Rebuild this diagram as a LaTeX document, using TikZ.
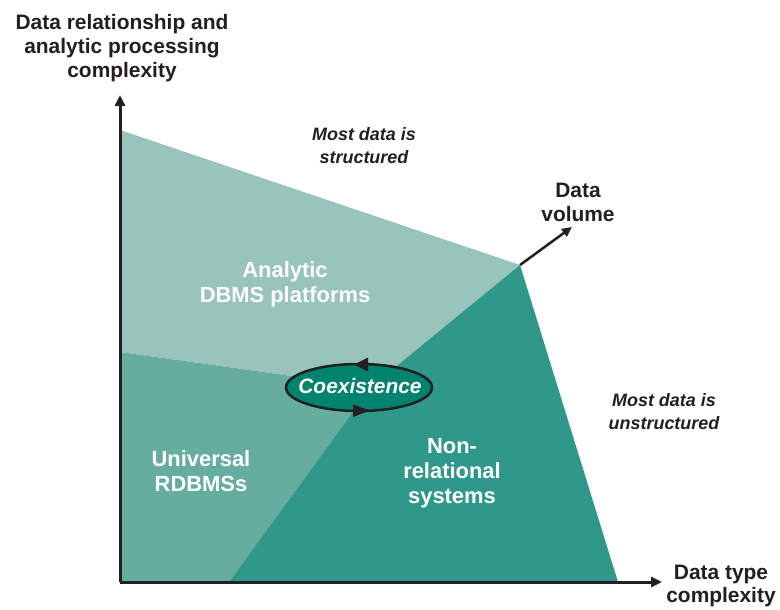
\documentclass[tikz,border=0pt]{standalone}
\usepackage{fontspec}
\setmainfont{Liberation Sans}
\usetikzlibrary{arrows.meta,shapes.geometric,calc}
\definecolor{lightteal}{RGB}{152,196,188}
\definecolor{midteal}{RGB}{102,173,159}
\definecolor{darkteal}{RGB}{47,152,138}
\definecolor{coexfill}{RGB}{0,131,111}
\definecolor{ink}{RGB}{35,31,32}
\tikzset{
  axislabel/.style={font=\bfseries\fontsize{21}{24}\selectfont, text=ink, align=center, inner sep=0pt},
  note/.style={font=\bfseries\itshape\fontsize{18}{23}\selectfont, text=ink, align=center, inner sep=0pt},
  regionlabel/.style={font=\bfseries\fontsize{22}{25}\selectfont, text=white, align=center, inner sep=0pt},
  axisline/.style={draw=ink, line width=3bp, line join=miter},
  axistip/.style={-{Triangle[length=11bp,width=10bp]}},
  coexring/.style={draw=ink, line width=2.5bp, fill=coexfill},
  coextext/.style={inner sep=0pt, text=white, font=\bfseries\itshape\fontsize{21}{24}\selectfont},
  headtri/.style={fill=ink, draw=none}
}
\begin{document}
\begin{tikzpicture}[x=1bp,y=-1bp]
\useasboundingbox (0,0) rectangle (780,610);
\fill[white] (0,0) rectangle (780,610);
% key points
\coordinate (origin) at (120,582);
\coordinate (ytip) at (120,95);
\coordinate (xtip) at (662,582);
\coordinate (tl) at (120,130);
\coordinate (peak) at (520,265);
\coordinate (ctr) at (371,387);
\coordinate (lmid) at (120,352);
\coordinate (bmid) at (229,582);
\coordinate (br) at (618,582);
\coordinate (dvtip) at (572,227);
\coordinate (cc) at (359,387.5);
% regions
\fill[lightteal] (tl) -- (peak) -- (ctr) -- (lmid) -- cycle;
\fill[midteal] (lmid) -- (ctr) -- (bmid) -- (origin) -- cycle;
\fill[darkteal] (bmid) -- (ctr) -- (peak) -- (br) -- cycle;
% axes
\draw[axisline, axistip] (origin) -- (ytip);
\draw[axisline, axistip] (origin) -- (xtip);
\draw[draw=ink, line width=2.5bp, -{Triangle[length=10bp,width=9bp]}] (peak) -- (dvtip);
% coexistence
\draw[coexring] (cc) ellipse [x radius=73, y radius=23.5];
\node[coextext] (coex) at ($(cc)+(1,-1)$) {Coexistence};
\coordinate (ctop) at ($(cc)+(0,-23.5)$);
\coordinate (cbot) at ($(cc)+(0,23.5)$);
\fill[headtri] ($(ctop)+(-5,0.5)$) -- ($(ctop)+(9,-6.5)$) -- ($(ctop)+(9,7.5)$) -- cycle;
\fill[headtri] ($(cbot)+(11,-0.5)$) -- ($(cbot)+(-6,-6.5)$) -- ($(cbot)+(-6,6)$) -- cycle;
% labels
\node[axislabel] (ylab) at (122,48) {Data relationship and\\analytic processing\\complexity};
\node[axislabel] (xlab) at (721,586) {Data type\\complexity};
\node[axislabel] (dvlab) at (578,202) {Data\\volume};
\node[note] (struct) at (364,146) {Most data is\\structured};
\node[note] (unstruct) at (664,412) {Most data is\\unstructured};
\node[regionlabel] (analytic) at (285,284) {Analytic\\DBMS platforms};
\node[regionlabel] (univ) at (201,471) {Universal\\RDBMSs};
\node[regionlabel] (nonrel) at (452,473) {Non-\\relational\\systems};
\end{tikzpicture}
\end{document}
